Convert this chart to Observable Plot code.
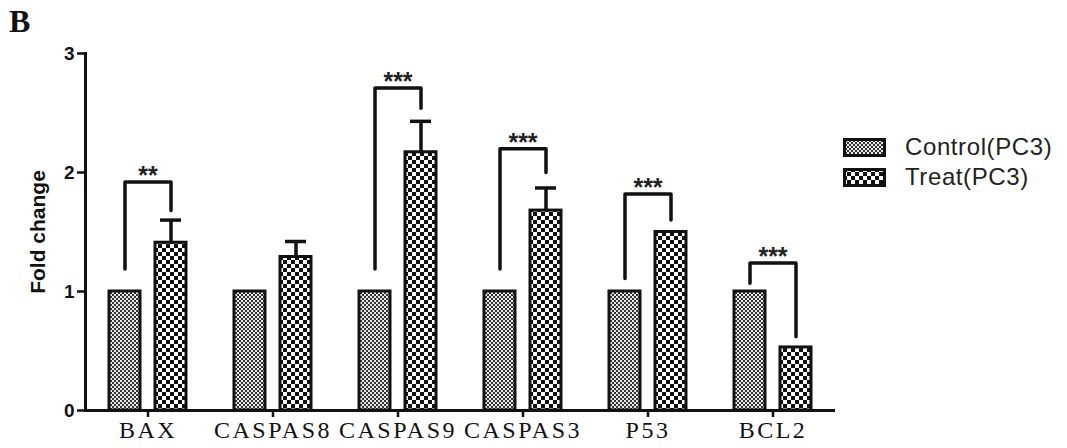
<!DOCTYPE html>
<html><head><meta charset="utf-8">
<script src="https://cdn.jsdelivr.net/npm/d3@7"></script>
<script src="https://cdn.jsdelivr.net/npm/@observablehq/plot@0.6"></script>
<style>
body{margin:0;background:#fff;}
#wrap{position:relative;width:1067px;height:448px;overflow:hidden;}
#panel{position:absolute;left:9px;top:3px;font:bold 32px "Liberation Serif",serif;color:#111;}
#legend{position:absolute;left:843px;top:132px;font:24px "Liberation Sans",Arial,sans-serif;letter-spacing:0.6px;color:#222;}
.item{display:flex;align-items:center;height:30px;}
.item svg{margin-right:19px;}
#defs{position:absolute;width:0;height:0;}
</style></head><body>
<svg id="defs" width="0" height="0">
  <defs>
    <pattern id="pCtrl" width="4" height="4" patternUnits="userSpaceOnUse">
      <rect width="4" height="4" fill="#e8e8e8"/>
      <rect width="2" height="2" fill="#333"/>
      <rect x="2" y="2" width="2" height="2" fill="#333"/>
    </pattern>
    <pattern id="pTreat" width="8" height="8" patternUnits="userSpaceOnUse">
      <rect width="8" height="8" fill="#fff"/>
      <rect width="4" height="4" fill="#111"/>
      <rect x="4" y="4" width="4" height="4" fill="#111"/>
    </pattern>
  </defs>
</svg>
<div id="wrap"><div id="panel">B</div><div id="legend"></div></div>
<script>
const genes = ["BAX", "CASPAS8", "CASPAS9", "CASPAS3", "P53", "BCL2"];
const groups = ["Control(PC3)", "Treat(PC3)"];
const controlValues = [1, 1, 1, 1, 1, 1];
const treatValues = [1.41, 1.29, 2.17, 1.68, 1.50, 0.53];
const treatErrorTop = [1.60, 1.42, 2.43, 1.87, null, null];
const bracketLeft = [1.19, null, 1.19, 1.19, 1.11, 1.07];
const bracketTop = [1.92, null, 2.71, 2.20, 1.82, 1.24];
const bracketRight = [1.68, null, 2.54, 2.00, 1.60, 0.62];
const starLabels = ["**", "", "***", "***", "***", "***"];
const yTicks = [0, 1, 2, 3];

const fills = {[groups[0]]: "url(#pCtrl)", [groups[1]]: "url(#pTreat)"};

const controlRows = genes.map((g, i) => ({gene: g, group: groups[0], value: controlValues[i]}));
const treatRows = genes.map((g, i) => ({gene: g, group: groups[1], value: treatValues[i]}));
const errRows = genes.map((g, i) => ({gene: g, group: groups[1], lo: treatValues[i], hi: treatErrorTop[i]})).filter(d => d.hi != null);
const bracketRows = genes.flatMap((g, i) => bracketTop[i] == null ? [] : [
  {gene: g, group: groups[0], y: bracketLeft[i]},
  {gene: g, group: groups[0], y: bracketTop[i]},
  {gene: g, group: groups[1], y: bracketTop[i]},
  {gene: g, group: groups[1], y: bracketRight[i]}
]);
const starRows = genes.map((g, i) => ({gene: g, y: bracketTop[i], s: starLabels[i]})).filter(d => d.s);

const chart = Plot.plot({
  width: 1067,
  height: 448,
  marginLeft: 83,
  marginRight: 230,
  marginTop: 53,
  marginBottom: 38,
  style: {background: "transparent", color: "#111"},
  fx: {domain: genes, padding: 0},
  x: {domain: groups, paddingInner: 0.32, paddingOuter: 0.5, axis: null},
  y: {domain: [0, 3]},
  marks: [
    Plot.line(bracketRows, {fx: "gene", x: "group", y: "y", z: "gene", stroke: "#111", strokeWidth: 3.5, strokeLinejoin: "round"}),
    Plot.text(starRows, {fx: "gene", y: "y", text: "s", dy: -6, fontSize: 25, fontWeight: "bold", fontFamily: "Liberation Sans", fill: "#222"}),
    Plot.ruleX(errRows, {fx: "gene", x: "group", y1: "lo", y2: "hi", stroke: "#111", strokeWidth: 3.5}),
    Plot.tickY(errRows, {fx: "gene", x: "group", y: "hi", stroke: "#111", strokeWidth: 3.5, insetLeft: 5, insetRight: 5}),
    Plot.barY(controlRows, {fx: "gene", x: "group", y: "value", fill: fills[groups[0]], stroke: "#111", strokeWidth: 3}),
    Plot.barY(treatRows, {fx: "gene", x: "group", y: "value", fill: fills[groups[1]], stroke: "#111", strokeWidth: 3}),
    Plot.ruleY([0], {stroke: "#111", strokeWidth: 3}),
    Plot.frame({anchor: "left", facetAnchor: "left", stroke: "#111", strokeWidth: 3}),
    Plot.axisY({ticks: yTicks, tickFormat: d => String(d), tickSize: 8, tickPadding: 3, strokeWidth: 2.5,
      fontSize: 19, fontWeight: "bold", fontFamily: "Liberation Sans",
      label: "Fold change", labelAnchor: "center", labelArrow: "none", labelOffset: 55}),
    Plot.axisFx({anchor: "bottom", tickSize: 7, tickPadding: 3, strokeWidth: 2.5, label: null,
      fontSize: 24, fontFamily: "Liberation Serif"})
  ]
});
document.getElementById("wrap").appendChild(chart);
d3.select(chart).style("position", "absolute").style("left", "0").style("top", "0");
d3.select(chart).selectAll("[aria-label='fx-axis tick label'] text").attr("letter-spacing", 2.5);
d3.select(chart).selectAll("[aria-label='y-axis label'] text").attr("font-size", 21);
d3.select("#panel").raise();

const legend = d3.select("#legend");
groups.forEach(g => {
  const item = legend.append("div").attr("class", "item");
  const sw = item.append("svg").attr("width", 43).attr("height", 19);
  sw.append("rect").attr("x", 1.5).attr("y", 1.5).attr("width", 40).attr("height", 16)
    .attr("fill", fills[g]).attr("stroke", "#111").attr("stroke-width", 3);
  item.append("span").text(g);
});
</script>
</body></html>
